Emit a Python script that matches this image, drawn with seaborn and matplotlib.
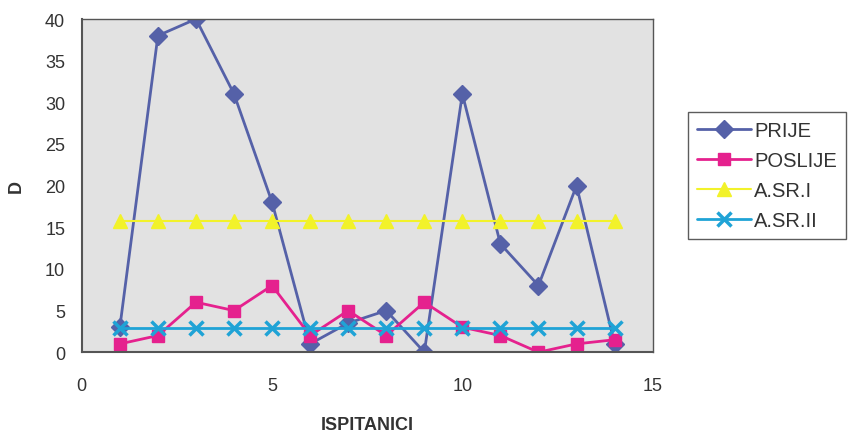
import numpy as np
import pandas as pd
import matplotlib
matplotlib.use('Agg')
import matplotlib.pyplot as plt
import seaborn as sns

ispitanici = list(range(1, 15))
prije = [3, 38, 40, 31, 18, 1, 3.5, 5, 0, 31, 13, 8, 20, 1]
poslije = [1, 2, 6, 5, 8, 2, 5, 2, 6, 3, 2, 0, 1, 1.5]
a_sr_i = [15.7] * 14
a_sr_ii = [2.9] * 14

series = ['PRIJE', 'POSLIJE', 'A.SR.I', 'A.SR.II']
colors = ['#5561a8', '#e5218e', '#f2f22a', '#1fa3d6']
markers = ['D', 's', '^', 'x']

df = pd.DataFrame({'ISPITANICI': ispitanici, 'PRIJE': prije, 'POSLIJE': poslije,
                   'A.SR.I': a_sr_i, 'A.SR.II': a_sr_ii})
long = df.melt(id_vars='ISPITANICI', var_name='serija', value_name='D')

sns.set_style('white')
plt.rcParams['font.family'] = ['Liberation Sans', 'DejaVu Sans']

fig = plt.figure(figsize=(8.52, 4.35), dpi=100)
ax = fig.add_axes([0.096, 0.188, 0.67, 0.766])
ax.set_facecolor('#e2e2e2')

for name, c, m in zip(series, colors, markers):
    sub = long[long['serija'] == name]
    ms = {'D': 9, 's': 9, '^': 10, 'x': 10}[m]
    mew = 1 if m != 'x' else 2.5
    sns.lineplot(data=sub, x='ISPITANICI', y='D', ax=ax, color=c, marker=m,
                 markersize=ms, markeredgewidth=mew, markeredgecolor=c,
                 linewidth=2 if name in ('PRIJE', 'POSLIJE', 'A.SR.II') else 1.5,
                 label=name)

ax.set_xlim(0, 15)
ax.set_ylim(0, 40)
ax.set_xticks([0, 5, 10, 15])
ax.set_yticks(range(0, 41, 5))
ax.tick_params(axis='both', labelsize=13, direction='inout', length=8, width=1.2,
               colors='#333333', labelcolor='#333333')
ax.tick_params(axis='x', pad=14)
ax.tick_params(axis='y', pad=8)
ax.set_xlabel('ISPITANICI', fontsize=13, fontweight='bold', color='#333333', labelpad=16)
ax.set_ylabel('D', fontsize=13, fontweight='bold', color='#333333')
ax.yaxis.set_label_coords(-0.1, 0.5)
for s in ax.spines.values():
    s.set_color('#555555')
    s.set_linewidth(1)
ax.spines['left'].set_linewidth(1.5)
ax.spines['bottom'].set_linewidth(1.5)

leg = ax.legend(loc='upper left', bbox_to_anchor=(0.807, 0.74), bbox_transform=fig.transFigure,
                frameon=True, fancybox=False, fontsize=14.5, handlelength=2.7,
                borderpad=0.45, labelspacing=0.55, handletextpad=0.15, borderaxespad=0)
leg.get_frame().set_edgecolor('#333333')
leg.get_frame().set_linewidth(1)
for t in leg.get_texts():
    t.set_color('#333333')

fig.savefig('out.png', dpi=100)
